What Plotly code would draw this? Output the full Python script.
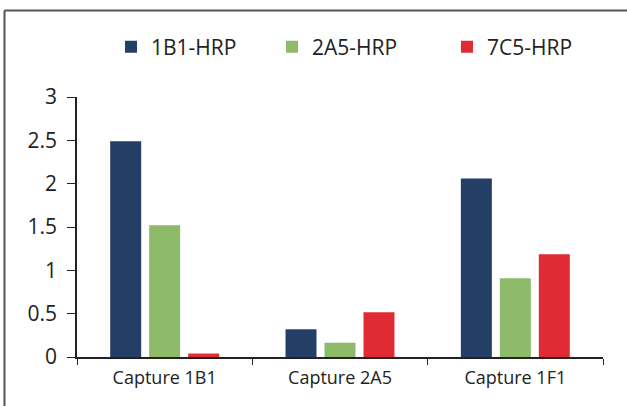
import plotly.graph_objects as go

categories = ["Capture 1B1", "Capture 2A5", "Capture 1F1"]
series_names = ["1B1-HRP", "2A5-HRP", "7C5-HRP"]
hrp_1b1 = [2.49, 0.32, 2.06]
hrp_2a5 = [1.52, 0.165, 0.91]
hrp_7c5 = [0.04, 0.515, 1.185]
colors = ["#243F66", "#8DBB6A", "#E02B35"]

W, H = 627, 406
L, R, T, B = 77, 24, 97, 49
pw, ph = W - L - R, H - T - B


def px_x(x):
    return (x - L) / pw


def px_y(y):
    return (H - B - y) / ph


fig = go.Figure()
legend_ids = ["legend", "legend2", "legend3"]
for name, vals, col, lg in zip(series_names, [hrp_1b1, hrp_2a5, hrp_7c5], colors, legend_ids):
    fig.add_trace(go.Bar(x=categories, y=vals, name=name, marker_color=col,
                         marker_line_width=0, legend=lg, showlegend=True))

font = dict(family="'Open Sans', sans-serif", color="#222")
legend_style = dict(orientation="h", xanchor="left", yanchor="middle",
                    bgcolor="rgba(0,0,0,0)", font=dict(size=21, **font),
                    itemwidth=30)
legend_x = [111, 272, 447]
fig.update_layout(
    width=W, height=H,
    margin=dict(l=L, r=R, t=T, b=B),
    paper_bgcolor="white", plot_bgcolor="white",
    barmode="group", bargap=0.333, bargroupgap=0.205,
    font=font, showlegend=True,
    legend=dict(x=px_x(legend_x[0]), y=px_y(47), **legend_style),
    legend2=dict(x=px_x(legend_x[1]), y=px_y(47), **legend_style),
    legend3=dict(x=px_x(legend_x[2]), y=px_y(47), **legend_style),
    xaxis=dict(showline=True, linecolor="#222", linewidth=1.5, ticks="outside",
               tickson="boundaries", ticklen=6, tickcolor="#222",
               ticklabelstandoff=4,
               tickfont=dict(size=18, **font), showgrid=False),
    yaxis=dict(range=[0, 3], dtick=0.5, showline=True, linecolor="#222", linewidth=1.5,
               ticks="outside", ticklen=8, tickcolor="#222", showgrid=False,
               ticklabelstandoff=6,
               zeroline=False, tickfont=dict(size=21, **font)),
    shapes=[
        dict(type="line", xref="paper", yref="paper", x0=px_x(4.5), x1=px_x(640),
             y0=px_y(10.5), y1=px_y(10.5), line=dict(color="#555", width=2)),
        dict(type="line", xref="paper", yref="paper", x0=px_x(4.5), x1=px_x(4.5),
             y0=px_y(10.5), y1=px_y(420), line=dict(color="#555", width=2)),
    ],
)

fig.write_html("out.html", config={"displayModeBar": False},
               post_script="document.body.style.margin='0';")
